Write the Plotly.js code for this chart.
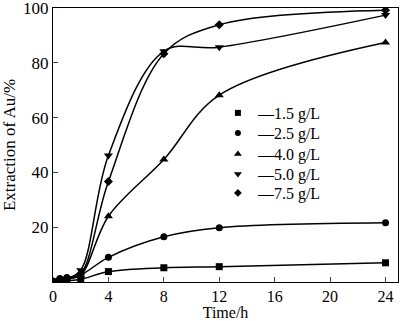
<!DOCTYPE html>
<html><head><meta charset="utf-8">
<script src="https://cdn.plot.ly/plotly-3.0.1.min.js"></script>
<style>html,body{margin:0;padding:0;background:#fff}#c{width:400px;height:321px}</style>
</head><body><div id="c"></div>
<script>
const time = [0, 0.5, 1, 2, 4, 8, 12, 24];
const c15 = [0, 0.3, 0.5, 1.0, 3.8, 5.2, 5.6, 7.0];
const c25 = [0.3, 1.3, 1.6, 2.6, 9.0, 16.5, 19.8, 21.6];
const c40 = [0.2, 0.8, 1.2, 2.5, 24.0, 44.7, 68.2, 87.4];
const c50 = [0.2, 0.8, 1.2, 4.3, 46.2, 84.2, 85.7, 97.4];
const c75 = [0.2, 0.8, 1.2, 3.0, 36.7, 83.3, 93.9, 99.2];
const names = ['1.5 g/L', '2.5 g/L', '4.0 g/L', '5.0 g/L', '7.5 g/L'];
const series = [c15, c25, c40, c50, c75];
const symbols = ['square', 'circle', 'triangle-up', 'triangle-down', 'diamond'];
const sizes = [7, 7, 8, 8, 7];
const xTicks = [0, 4, 8, 12, 16, 20, 24];
const yTicks = [20, 40, 60, 80, 100];

const font = 'Liberation Serif, Times New Roman, serif';
const legendNames = ['legend', 'legend2', 'legend3', 'legend4', 'legend5'];
const rowY = [113, 133, 154, 174, 193]; // legend row centres, px from top
const traces = [];
series.forEach((s, i) => {
  traces.push({x: time, y: s, mode: 'lines+markers', showlegend: false,
    line: {color: '#000', width: 1.5, shape: 'spline', smoothing: 1},
    marker: {symbol: symbols[i], size: sizes[i], color: '#000'}});
});
series.forEach((s, i) => {
  traces.push({x: [null], y: [null], mode: 'markers', name: '\u2014' + names[i],
    legend: legendNames[i],
    marker: {symbol: symbols[i], size: sizes[i] - 1, color: '#000'}});
});
const mT = 8, mB = 39;
const layout = {
  width: 400, height: 321,
  margin: {l: 53, r: 2, t: mT, b: mB},
  paper_bgcolor: '#fff', plot_bgcolor: '#fff',
  font: {family: font, color: '#000', size: 17},
  xaxis: {range: [0, 24.9], tickvals: xTicks, ticks: 'inside', ticklen: 5,
    showline: true, linecolor: '#000', linewidth: 1, mirror: true,
    showgrid: false, zeroline: false, tickfont: {size: 16},
    ticklabeloverflow: 'allow',
    title: {text: 'Time/h', font: {size: 16}, standoff: 2}},
  yaxis: {range: [0, 100], tickvals: yTicks, ticks: 'inside', ticklen: 5,
    showline: true, linecolor: '#000', linewidth: 1, mirror: true,
    showgrid: false, zeroline: false, tickfont: {size: 17},
    ticklabeloverflow: 'allow',
    title: {text: 'Extraction of Au/%', font: {size: 17}, standoff: 7}},
  showlegend: true
};
const plotH = 321 - mT - mB;
legendNames.forEach((ln, i) => {
  layout[ln] = {x: 0.478, xanchor: 'left', y: (mT + plotH - rowY[i]) / plotH,
    yanchor: 'middle', bgcolor: 'rgba(0,0,0,0)', font: {size: 16, family: font}};
});
Plotly.newPlot('c', traces, layout, {staticPlot: true});
</script></body></html>
